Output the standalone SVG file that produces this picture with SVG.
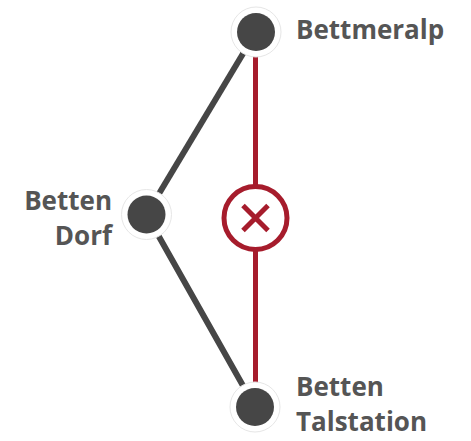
<svg xmlns="http://www.w3.org/2000/svg" width="471" height="441" viewBox="0 0 471 441">
<style>
.lbl{font-family:"Open Sans","Liberation Sans",sans-serif;font-weight:700;font-size:26px;fill:#555555}
.gray{stroke:#464646;stroke-width:6;fill:none;stroke-linecap:round}
.red{stroke:#a61c2c;stroke-width:5;fill:none}
.halo{fill:#ffffff;stroke:#e6e6e6;stroke-width:1}
.dot{fill:#464646}
</style>
<rect width="471" height="441" fill="#ffffff"/>
<g id="connectors">
<line class="gray" x1="256" y1="32" x2="146.5" y2="214.5"/>
<line class="gray" x1="146.5" y1="214.5" x2="255" y2="407"/>
<line class="red" x1="255.5" y1="32" x2="255.5" y2="407"/>
</g>
<g id="closed">
<circle cx="255.5" cy="218" r="31.5" fill="#ffffff" stroke="#a61c2c" stroke-width="5"/>
<path d="M243 205.5L268 230.5M268 205.5L243 230.5" stroke="#a61c2c" stroke-width="5" stroke-linecap="butt"/>
</g>
<g id="bettmeralp">
<circle class="halo" cx="256" cy="32" r="25"/>
<circle class="dot" cx="256" cy="32" r="19"/>
<text class="lbl" x="296" y="39">Bettmeralp</text>
</g>
<g id="betten-dorf">
<circle class="halo" cx="146.5" cy="214.5" r="25"/>
<circle class="dot" cx="146.5" cy="214.5" r="19"/>
<text class="lbl" x="112" y="210" text-anchor="end">Betten</text>
<text class="lbl" x="112" y="245" text-anchor="end">Dorf</text>
</g>
<g id="betten-talstation">
<circle class="halo" cx="255" cy="407" r="25"/>
<circle class="dot" cx="255" cy="407" r="19"/>
<text class="lbl" x="296" y="396">Betten</text>
<text class="lbl" x="296" y="431">Talstation</text>
</g>
</svg>
